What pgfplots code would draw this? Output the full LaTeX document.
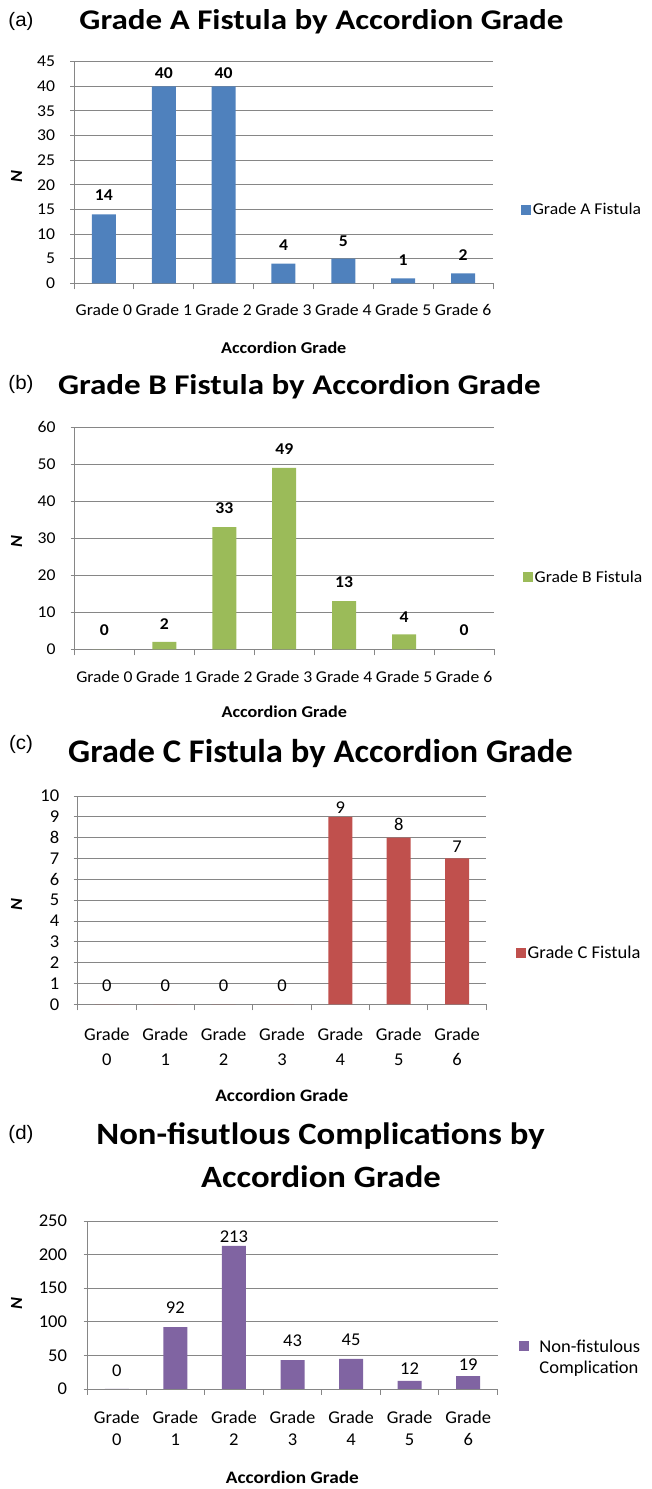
\documentclass[border=0pt]{standalone}
\usepackage{fontspec}
\setmainfont{Carlito}
\newfontfamily\arialf[FakeStretch=1.05]{Liberation Sans}
\newfontfamily\cfTab[FakeStretch=1.16]{Carlito}
\newfontfamily\cfTc[FakeStretch=1.05]{Carlito}
\newfontfamily\cfTd[FakeStretch=1.12]{Carlito}
\newfontfamily\cfS[FakeStretch=1.07]{Carlito}
\newfontfamily\cfL[FakeStretch=1.03]{Carlito}
\newfontfamily\cfX[FakeStretch=1.1]{Carlito}
\usepackage{pgfplots}
\usepackage{pgfplotstable}
\pgfplotsset{compat=1.18}
\definecolor{cA}{HTML}{4F81BD}
\definecolor{cB}{HTML}{9BBB59}
\definecolor{cC}{HTML}{C0504D}
\definecolor{cD}{HTML}{8064A2}
\definecolor{gridc}{RGB}{134,134,134}

\pgfplotstableread{
x y dy
0 14 19
1 40 13.3
2 40 13.3
3 4 18.3
4 5 17.7
5 1 18.3
6 2 18.3
}\dataA
\pgfplotstableread{
x y dy
0 0 19.3
1 2 18.3
2 33 18.7
3 49 19
4 13 19.3
5 4 17.3
6 0 19.3
}\dataB
\pgfplotstableread{
x y dy
0 0 18.7
1 0 18.7
2 0 18.7
3 0 18.7
4 9 9.3
5 8 13.7
6 7 12
}\dataC
\pgfplotstableread{
x y dy
0 0 18.3
1 92 19.3
2 213 9.3
3 43 19.3
4 45 19
5 12 12.7
6 19 11.7
}\dataD

\newcommand\sfab{\cfS\fontsize{16.5}{19}\selectfont}
\newcommand\sfcd{\cfL\fontsize{18}{21}\selectfont}
\newcommand\xlab[1]{\cfX\bfseries\fontsize{#1}{20}\selectfont}
\newcommand\nlab{\cfS\bfseries\itshape\fontsize{17}{20}\selectfont}
\newcommand\plab{\arialf\fontsize{19.5}{22}\selectfont}

\pgfplotsset{
  panel/.style={
    scale only axis, anchor=south west,
    xmin=-0.5, xmax=6.5, ymin=0,
    ybar, bar width=24pt,
    axis x line*=bottom, axis y line*=left,
    axis line style={gridc, line width=0.9pt},
    xtick={0,...,6},
    major x tick style={draw=none},
    extra x ticks={-0.5,0.5,...,6.5}, extra x tick labels={},
    extra x tick style={grid=none, major tick length=6pt,
      major x tick style={draw=gridc, line width=0.9pt}},
    ymajorgrids, grid style={gridc, line width=0.9pt},
    ytick style={gridc, line width=0.9pt},
    major tick length=4pt, tick align=outside,
    tick label style={text=black},
    /pgf/number format/assume math mode=true,
    nodes near coords,
    visualization depends on={\thisrow{dy} \as \dy},
    every node near coord/.append style={anchor=center, yshift=\dy pt, text=black},
    legend image code/.code={\fill[##1] (0pt,-5pt) rectangle (10pt,5pt);},
    legend style={draw=none, fill=none, anchor=west, inner sep=0pt,
      nodes={inner sep=2pt}},
    legend cell align=left,
  },
}

\begin{document}
\begin{tikzpicture}[x=1pt,y=1pt]
\path[use as bounding box] (0,0) rectangle (651,1489);

% ---------- (a)
\begin{axis}[panel, at={(74pt,1205.7pt)}, width=419pt, height=221.6pt,
  ymax=45, ytick distance=5,
  tick label style={font=\sfab},
  yticklabel style={xshift=-11.5pt},
  xticklabels={Grade 0,Grade 1,Grade 2,Grade 3,Grade 4,Grade 5,Grade 6},
  xticklabel style={yshift=-12.8pt},
  every node near coord/.append style={font=\sfab\bfseries},
  legend style={font=\sfab, at={(axis description cs:1.066,0.331)}}]
\addplot[fill=cA, draw=none] table[x=x,y=y] {\dataA};
\addlegendentry{Grade A Fistula}
\end{axis}
\node[anchor=base, font=\plab] at (21,1462.5) {(a)};
\node[anchor=base, font=\cfTab\bfseries\fontsize{28.5}{32}\selectfont] at (321.5,1459.7) {Grade A Fistula by Accordion Grade};
\node[anchor=base, font=\xlab{16.5}] at (283.7,1135) {Accordion Grade};
\node[rotate=90, font=\nlab] at (16.6,1312) {N};

% ---------- (b)
\begin{axis}[panel, at={(74.5pt,839.7pt)}, width=419.5pt, height=222pt,
  ymax=60, ytick distance=10,
  tick label style={font=\sfab},
  yticklabel style={xshift=-11.5pt},
  xticklabels={Grade 0,Grade 1,Grade 2,Grade 3,Grade 4,Grade 5,Grade 6},
  xticklabel style={yshift=-13.8pt},
  every node near coord/.append style={font=\sfab\bfseries},
  legend style={font=\sfab, at={(axis description cs:1.068,0.324)}}]
\addplot[fill=cB, draw=none] table[x=x,y=y] {\dataB};
\addlegendentry{Grade B Fistula}
\end{axis}
\node[anchor=base, font=\plab] at (21,1099) {(b)};
\node[anchor=base, font=\cfTab\bfseries\fontsize{28.5}{32}\selectfont] at (299.3,1094) {Grade B Fistula by Accordion Grade};
\node[anchor=base, font=\xlab{16.5}] at (284.3,771) {Accordion Grade};
\node[rotate=90, font=\nlab] at (16.6,947.3) {N};

% ---------- (c)
\begin{axis}[panel, at={(77.7pt,484.7pt)}, width=408.6pt, height=208.3pt,
  ymax=10, ytick distance=1,
  tick label style={font=\sfcd},
  yticklabel style={xshift=-11pt},
  xticklabels={{Grade\\0},{Grade\\1},{Grade\\2},{Grade\\3},{Grade\\4},{Grade\\5},{Grade\\6}},
  xticklabel style={align=center, font=\cfL\fontsize{18}{25}\selectfont, yshift=-16.5pt},
  every node near coord/.append style={font=\sfcd},
  legend style={font=\sfcd, at={(axis description cs:1.0715,0.245)}}]
\addplot[fill=cC, draw=none] table[x=x,y=y] {\dataC};
\addlegendentry{Grade C Fistula}
\end{axis}
\node[anchor=base, font=\plab] at (21,739) {(c)};
\node[anchor=base, font=\cfTc\bfseries\fontsize{33}{36}\selectfont] at (320.5,726.5) {Grade C Fistula by Accordion Grade};
\node[anchor=base, font=\xlab{17.5}] at (281.8,387.3) {Accordion Grade};
\node[rotate=90, font=\nlab] at (16.6,584) {N};

% ---------- (d)
\begin{axis}[panel, at={(87.5pt,100pt)}, width=410pt, height=168pt,
  ymax=250, ytick distance=50,
  tick label style={font=\sfcd},
  yticklabel style={xshift=-13pt},
  xticklabels={{Grade\\0},{Grade\\1},{Grade\\2},{Grade\\3},{Grade\\4},{Grade\\5},{Grade\\6}},
  xticklabel style={align=center, font=\cfL\fontsize{18}{22.5}\selectfont, yshift=-14pt},
  every node near coord/.append style={font=\sfcd},
  legend style={font=\sfcd, at={(axis description cs:1.053,0.321)}, anchor=north west}]
\addplot[fill=cD, draw=none] table[x=x,y=y] {\dataD};
\addlegendentry{\cfL\fontsize{18}{21.6}\selectfont\begin{tabular}[t]{@{\hspace{8pt}}l@{}}Non-fistulous\\Complication\end{tabular}}
\end{axis}
\node[anchor=base, font=\plab] at (21,349) {(d)};
\node[anchor=base, font=\cfTd\bfseries\fontsize{31}{34}\selectfont] at (320.5,344) {Non-fisutlous Complications by};
\node[anchor=base, font=\cfTd\bfseries\fontsize{31}{34}\selectfont] at (321,301.7) {Accordion Grade};
\node[anchor=base, font=\xlab{17.5}] at (292.4,5.7) {Accordion Grade};
\node[rotate=90, font=\nlab] at (16.6,185.7) {N};
\end{tikzpicture}
\end{document}
